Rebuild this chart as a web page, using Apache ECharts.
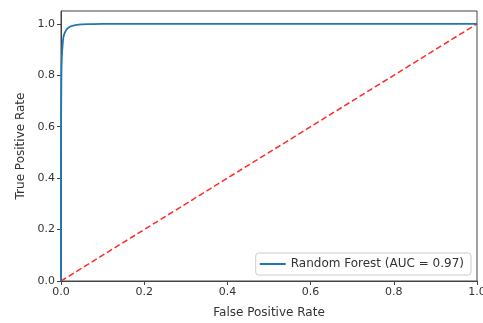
<!DOCTYPE html>
<html>
<head>
<meta charset="utf-8">
<script src="https://cdn.jsdelivr.net/npm/echarts@6/dist/echarts.min.js"></script>
<style>
  html, body { margin: 0; padding: 0; background: #fff; }
  #chart { width: 483px; height: 323px; }
</style>
</head>
<body>
<div id="chart"></div>
<script>
// ROC curve
var fpr = [0, 0, 0.001, 0.002, 0.004, 0.006, 0.009, 0.013, 0.018, 0.025, 0.035, 0.05, 0.07, 0.1, 0.2, 1];
var tpr = [0, 0.5, 0.8, 0.87, 0.92, 0.95, 0.965, 0.977, 0.985, 0.991, 0.995, 0.998, 0.999, 1, 1, 1];
var chanceX = [0, 1];
var chanceY = [0, 1];
var seriesName = 'Random Forest (AUC = 0.97)';
var xTitle = 'False Positive Rate';
var yTitle = 'True Positive Rate';

function pairs(xs, ys) {
  return xs.map(function (x, i) { return [x, ys[i]]; });
}

var axisCol = '#444';
var chart = echarts.init(document.getElementById('chart'));
chart.setOption({
  animation: false,
  textStyle: { fontFamily: 'DejaVu Sans' },
  grid: {
    left: 61, right: 6, top: 11, bottom: 42,
    outerBoundsMode: 'none', containLabel: false,
    show: true, borderColor: axisCol, borderWidth: 1
  },
  legend: {
    right: 12, bottom: 48,
    data: [seriesName],
    icon: 'rect', itemWidth: 26, itemHeight: 2, itemGap: 8,
    padding: [5, 7, 5, 4],
    borderColor: '#ccc', borderWidth: 1, borderRadius: 3,
    backgroundColor: '#fff',
    textStyle: { color: '#333', fontSize: 12, fontFamily: 'DejaVu Sans' }
  },
  xAxis: {
    type: 'value', min: 0, max: 1, interval: 0.2,
    name: xTitle, nameLocation: 'middle', nameGap: 26,
    nameTextStyle: { color: '#333', fontSize: 12 },
    splitLine: { show: false },
    axisLine: { lineStyle: { color: axisCol } },
    axisTick: { show: true, length: 4, lineStyle: { color: axisCol } },
    axisLabel: { color: '#333', fontSize: 11, margin: 6,
      formatter: function (v) { return v.toFixed(1); } }
  },
  yAxis: {
    type: 'value', min: 0, max: 1.05, interval: 0.2,
    name: yTitle, nameLocation: 'middle', nameGap: 34,
    nameTextStyle: { color: '#333', fontSize: 12 },
    splitLine: { show: false },
    axisLine: { lineStyle: { color: axisCol } },
    axisTick: { show: true, length: 4, lineStyle: { color: axisCol } },
    axisLabel: { color: '#333', fontSize: 11, margin: 6, showMaxLabel: false,
      formatter: function (v) { return v > 1.0001 ? '' : v.toFixed(1); } }
  },
  series: [
    {
      name: seriesName, type: 'line', symbol: 'none', smooth: 0.3,
      data: pairs(fpr, tpr),
      itemStyle: { color: '#1f77b4' },
      lineStyle: { color: '#1f77b4', width: 1.8 },
      z: 3
    },
    {
      name: 'chance', type: 'line', symbol: 'none',
      data: pairs(chanceX, chanceY),
      lineStyle: { color: '#ff2a2a', width: 1.5, type: [6, 3] },
      z: 2
    }
  ]
});
</script>
</body>
</html>
